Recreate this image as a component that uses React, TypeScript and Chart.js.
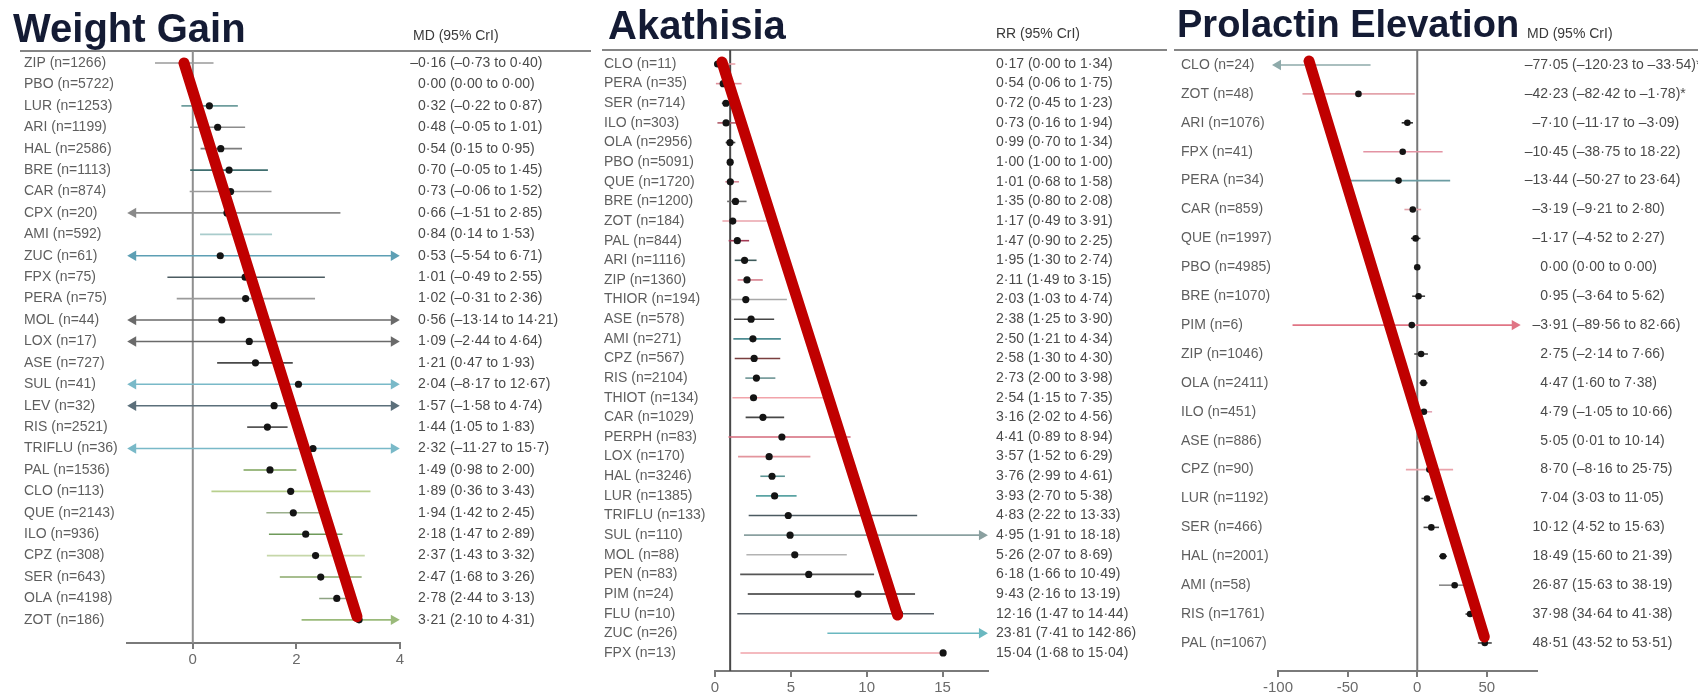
import React, { useEffect, useRef } from "react";
import { Chart, registerables } from "chart.js";

Chart.register(...registerables);

const FONT = '"Liberation Sans", Arial, sans-serif';

// ---------------- Weight Gain ----------------
const weightLabels = [
  "ZIP (n=1266)", "PBO (n=5722)", "LUR (n=1253)", "ARI (n=1199)", "HAL (n=2586)", "BRE (n=1113)",
  "CAR (n=874)", "CPX (n=20)", "AMI (n=592)", "ZUC (n=61)", "FPX (n=75)", "PERA (n=75)",
  "MOL (n=44)", "LOX (n=17)", "ASE (n=727)", "SUL (n=41)", "LEV (n=32)", "RIS (n=2521)",
  "TRIFLU (n=36)", "PAL (n=1536)", "CLO (n=113)", "QUE (n=2143)", "ILO (n=936)", "CPZ (n=308)",
  "SER (n=643)", "OLA (n=4198)", "ZOT (n=186)",
];
const weightMD = [-0.16, 0.0, 0.32, 0.48, 0.54, 0.7, 0.73, 0.66, 0.84, 0.53, 1.01, 1.02, 0.56, 1.09, 1.21, 2.04, 1.57, 1.44, 2.32, 1.49, 1.89, 1.94, 2.18, 2.37, 2.47, 2.78, 3.21];
const weightLow = [-0.73, 0.0, -0.22, -0.05, 0.15, -0.05, -0.06, -1.51, 0.14, -5.54, -0.49, -0.31, -13.14, -2.44, 0.47, -8.17, -1.58, 1.05, -11.27, 0.98, 0.36, 1.42, 1.47, 1.43, 1.68, 2.44, 2.1];
const weightHigh = [0.4, 0.0, 0.87, 1.01, 0.95, 1.45, 1.52, 2.85, 1.53, 6.71, 2.55, 2.36, 14.21, 4.64, 1.93, 12.67, 4.74, 1.83, 15.7, 2.0, 3.43, 2.45, 2.89, 3.32, 3.26, 3.13, 4.31];
const weightCrI = [
  "–0·16 (–0·73 to 0·40)", "0·00 (0·00 to 0·00)", "0·32 (–0·22 to 0·87)", "0·48 (–0·05 to 1·01)",
  "0·54 (0·15 to 0·95)", "0·70 (–0·05 to 1·45)", "0·73 (–0·06 to 1·52)", "0·66 (–1·51 to 2·85)",
  "0·84 (0·14 to 1·53)", "0·53 (–5·54 to 6·71)", "1·01 (–0·49 to 2·55)", "1·02 (–0·31 to 2·36)",
  "0·56 (–13·14 to 14·21)", "1·09 (–2·44 to 4·64)", "1·21 (0·47 to 1·93)", "2·04 (–8·17 to 12·67)",
  "1·57 (–1·58 to 4·74)", "1·44 (1·05 to 1·83)", "2·32 (–11·27 to 15·7)", "1·49 (0·98 to 2·00)",
  "1·89 (0·36 to 3·43)", "1·94 (1·42 to 2·45)", "2·18 (1·47 to 2·89)", "2·37 (1·43 to 3·32)",
  "2·47 (1·68 to 3·26)", "2·78 (2·44 to 3·13)", "3·21 (2·10 to 4·31)",
];
const weightTicks = [0, 2, 4];
const weightTrendX = [-0.17, 3.17];
const weightTrendY = [0, 25.85];

// ---------------- Akathisia ----------------
const akathisiaLabels = [
  "CLO (n=11)", "PERA (n=35)", "SER (n=714)", "ILO (n=303)", "OLA (n=2956)", "PBO (n=5091)",
  "QUE (n=1720)", "BRE (n=1200)", "ZOT (n=184)", "PAL (n=844)", "ARI (n=1116)", "ZIP (n=1360)",
  "THIOR (n=194)", "ASE (n=578)", "AMI (n=271)", "CPZ (n=567)", "RIS (n=2104)", "THIOT (n=134)",
  "CAR (n=1029)", "PERPH (n=83)", "LOX (n=170)", "HAL (n=3246)", "LUR (n=1385)", "TRIFLU (n=133)",
  "SUL (n=110)", "MOL (n=88)", "PEN (n=83)", "PIM (n=24)", "FLU (n=10)", "ZUC (n=26)", "FPX (n=13)",
];
const akathisiaRR = [0.17, 0.54, 0.72, 0.73, 0.99, 1.0, 1.01, 1.35, 1.17, 1.47, 1.95, 2.11, 2.03, 2.38, 2.5, 2.58, 2.73, 2.54, 3.16, 4.41, 3.57, 3.76, 3.93, 4.83, 4.95, 5.26, 6.18, 9.43, 12.16, 23.81, 15.04];
const akathisiaLow = [0.0, 0.06, 0.45, 0.16, 0.7, 1.0, 0.68, 0.8, 0.49, 0.9, 1.3, 1.49, 1.03, 1.25, 1.21, 1.3, 2.0, 1.15, 2.02, 0.89, 1.52, 2.99, 2.7, 2.22, 1.91, 2.07, 1.66, 2.16, 1.47, 7.41, 1.68];
const akathisiaHigh = [1.34, 1.75, 1.23, 1.94, 1.34, 1.0, 1.58, 2.08, 3.91, 2.25, 2.74, 3.15, 4.74, 3.9, 4.34, 4.3, 3.98, 7.35, 4.56, 8.94, 6.29, 4.61, 5.38, 13.33, 18.18, 8.69, 10.49, 13.19, 14.44, 142.86, 15.04];
const akathisiaCrI = [
  "0·17 (0·00 to 1·34)", "0·54 (0·06 to 1·75)", "0·72 (0·45 to 1·23)", "0·73 (0·16 to 1·94)",
  "0·99 (0·70 to 1·34)", "1·00 (1·00 to 1·00)", "1·01 (0·68 to 1·58)", "1·35 (0·80 to 2·08)",
  "1·17 (0·49 to 3·91)", "1·47 (0·90 to 2·25)", "1·95 (1·30 to 2·74)", "2·11 (1·49 to 3·15)",
  "2·03 (1·03 to 4·74)", "2·38 (1·25 to 3·90)", "2·50 (1·21 to 4·34)", "2·58 (1·30 to 4·30)",
  "2·73 (2·00 to 3·98)", "2·54 (1·15 to 7·35)", "3·16 (2·02 to 4·56)", "4·41 (0·89 to 8·94)",
  "3·57 (1·52 to 6·29)", "3·76 (2·99 to 4·61)", "3·93 (2·70 to 5·38)", "4·83 (2·22 to 13·33)",
  "4·95 (1·91 to 18·18)", "5·26 (2·07 to 8·69)", "6·18 (1·66 to 10·49)", "9·43 (2·16 to 13·19)",
  "12·16 (1·47 to 14·44)", "23·81 (7·41 to 142·86)", "15·04 (1·68 to 15·04)",
];
const akathisiaTicks = [0, 5, 10, 15];
const akathisiaTrendX = [0.46, 12.04];
const akathisiaTrendY = [-0.1, 28.07];

// ---------------- Prolactin Elevation ----------------
const prolactinLabels = [
  "CLO (n=24)", "ZOT (n=48)", "ARI (n=1076)", "FPX (n=41)", "PERA (n=34)", "CAR (n=859)",
  "QUE (n=1997)", "PBO (n=4985)", "BRE (n=1070)", "PIM (n=6)", "ZIP (n=1046)", "OLA (n=2411)",
  "ILO (n=451)", "ASE (n=886)", "CPZ (n=90)", "LUR (n=1192)", "SER (n=466)", "HAL (n=2001)",
  "AMI (n=58)", "RIS (n=1761)", "PAL (n=1067)",
];
const prolactinMD = [-77.05, -42.23, -7.1, -10.45, -13.44, -3.19, -1.17, 0.0, 0.95, -3.91, 2.75, 4.47, 4.79, 5.05, 8.7, 7.04, 10.12, 18.49, 26.87, 37.98, 48.51];
const prolactinLow = [-120.23, -82.42, -11.17, -38.75, -50.27, -9.21, -4.52, 0.0, -3.64, -89.56, -2.14, 1.6, -1.05, 0.01, -8.16, 3.03, 4.52, 15.6, 15.63, 34.64, 43.52];
const prolactinHigh = [-33.54, -1.78, -3.09, 18.22, 23.64, 2.8, 2.27, 0.0, 5.62, 82.66, 7.66, 7.38, 10.66, 10.14, 25.75, 11.05, 15.63, 21.39, 38.19, 41.38, 53.51];
const prolactinCrI = [
  "–77·05 (–120·23 to –33·54)*", "–42·23 (–82·42 to –1·78)*", "–7·10 (–11·17 to –3·09)",
  "–10·45 (–38·75 to 18·22)", "–13·44 (–50·27 to 23·64)", "–3·19 (–9·21 to 2·80)",
  "–1·17 (–4·52 to 2·27)", "0·00 (0·00 to 0·00)", "0·95 (–3·64 to 5·62)", "–3·91 (–89·56 to 82·66)",
  "2·75 (–2·14 to 7·66)", "4·47 (1·60 to 7·38)", "4·79 (–1·05 to 10·66)", "5·05 (0·01 to 10·14)",
  "8·70 (–8·16 to 25·75)", "7·04 (3·03 to 11·05)", "10·12 (4·52 to 15·63)", "18·49 (15·60 to 21·39)",
  "26·87 (15·63 to 38·19)", "37·98 (34·64 to 41·38)", "48·51 (43·52 to 53·51)",
];
const prolactinTicks = [-100, -50, 0, 50];
const prolactinTrendX = [-77.7, 48.2];
const prolactinTrendY = [-0.14, 19.79];

// ---------------- styles (colours per row) ----------------
const weightColors = [
  "#9a9a9a", "#999999", "#6e9d9d", "#8c8c8c", "#7d7d7d", "#3f6e6f", "#9a9a9a", "#8a8a8a", "#a9cccc",
  "#5d9fb4", "#4b5b61", "#9b9b9b", "#6a6a6a", "#6a6a6a", "#4a4a4a", "#79b9c8", "#5b6f7a", "#555555",
  "#79b9c8", "#7da35a", "#b8cf8d", "#9bb08c", "#6f9a5a", "#c6d7a9", "#8aa86a", "#8ea383", "#9aba7a",
];
const akathisiaColors = [
  "#eaa3ab", "#e0909b", "#5a5a5a", "#b05a68", "#4a4a4a", "#999999", "#d98a98", "#6a6a6a", "#eaa3ab",
  "#a33a55", "#3d5a5a", "#d7808e", "#a8a8a8", "#474747", "#4d8c92", "#7a3f3f", "#6c9494", "#f2a3aa",
  "#474747", "#d4697a", "#e3959d", "#5c9494", "#5aa3a3", "#4b5a61", "#8aa0a0", "#b3b3b3", "#565656",
  "#333333", "#565f66", "#6ab8c0", "#f0a3aa",
];
const prolactinColors = [
  "#8eaaaa", "#e3a3ab", "#333333", "#e393a3", "#6b9ca2", "#e3a3ab", "#333333", "#999999", "#444444",
  "#e07585", "#444444", "#444444", "#e3a3b3", "#dddddd", "#eaa3ab", "#444444", "#444444", "#444444",
  "#8a8a8a", "#444444", "#444444",
];

type Panel = {
  key: string;
  left: number;
  width: number;
  title: string;
  titleX: number;
  titleY: number;
  titleSize: number;
  header: string;
  headerX: number;
  headerY: number;
  headerSize: number;
  lineX0: number;
  lineX1: number;
  labels: string[];
  est: number[];
  low: number[];
  high: number[];
  cri: string[];
  colors: string[];
  ref: number;
  refColor: string;
  hideRefDot: boolean;
  xMin: number;
  xMax: number;
  yMin: number;
  yMax: number;
  ticks: number[];
  ciMin: number;
  ciMax: number;
  trendX: number[];
  trendY: number[];
  pad: { left: number; right: number; top: number; bottom: number };
  labelX: number;
  labelSize: number;
  criX: number;
  criMode: "left" | "decimal";
  criSize: number;
  dotR: number;
};

const panels: Panel[] = [
  {
    key: "weight", left: 0, width: 600,
    title: "Weight Gain", titleX: 13, titleY: 42, titleSize: 40,
    header: "MD (95% CrI)", headerX: 413, headerY: 36, headerSize: 14,
    lineX0: 20, lineX1: 591,
    labels: weightLabels, est: weightMD, low: weightLow, high: weightHigh, cri: weightCrI, colors: weightColors,
    ref: 0, refColor: "#8f8f8f", hideRefDot: true,
    xMin: -1.27, xMax: 4, yMin: -0.56, yMax: 27.08, ticks: weightTicks,
    ciMin: -1.15, ciMax: 3.88,
    trendX: weightTrendX, trendY: weightTrendY,
    pad: { left: 127, right: 200, top: 51, bottom: 28 },
    labelX: 24, labelSize: 14, criX: 418, criMode: "left", criSize: 14, dotR: 3.6,
  },
  {
    key: "akathisia", left: 600, width: 573,
    title: "Akathisia", titleX: 8, titleY: 39, titleSize: 40,
    header: "RR (95% CrI)", headerX: 396, headerY: 34, headerSize: 14,
    lineX0: 2, lineX1: 567,
    labels: akathisiaLabels, est: akathisiaRR, low: akathisiaLow, high: akathisiaHigh, cri: akathisiaCrI, colors: akathisiaColors,
    ref: 1, refColor: "#484848", hideRefDot: false,
    xMin: 0, xMax: 18, yMin: -0.713, yMax: 30.92, ticks: akathisiaTicks,
    ciMin: 0, ciMax: 17.6,
    trendX: akathisiaTrendX, trendY: akathisiaTrendY,
    pad: { left: 115, right: 185, top: 50, bottom: 0 },
    labelX: 4, labelSize: 14, criX: 396, criMode: "left", criSize: 14, dotR: 3.6,
  },
  {
    key: "prolactin", left: 1173, width: 525,
    title: "Prolactin Elevation", titleX: 4, titleY: 37, titleSize: 38,
    header: "MD (95% CrI)", headerX: 354, headerY: 34, headerSize: 14,
    lineX0: 1, lineX1: 525,
    labels: prolactinLabels, est: prolactinMD, low: prolactinLow, high: prolactinHigh, cri: prolactinCrI, colors: prolactinColors,
    ref: 0, refColor: "#777777", hideRefDot: false,
    xMin: -100, xMax: 86, yMin: -0.52, yMax: 20.97, ticks: prolactinTicks,
    ciMin: -100, ciMax: 70,
    trendX: prolactinTrendX, trendY: prolactinTrendY,
    pad: { left: 105, right: 161, top: 50, bottom: 0 },
    labelX: 8, labelSize: 14, criX: 375, criMode: "decimal", criSize: 14, dotR: 3.3,
  },
];

function buildChart(canvas: HTMLCanvasElement, p: Panel): Chart {
  const datasets: any[] = [];
  datasets.push({
    label: "trend",
    data: p.trendX.map((x, k) => ({ x, y: p.trendY[k] })),
    showLine: true,
    borderColor: "#c00000",
    borderWidth: 11,
    borderCapStyle: "round",
    pointRadius: 0,
    order: 0,
    clip: false,
  });
  datasets.push({
    label: "estimate",
    data: p.est
      .map((v, i) => ({ x: v, y: i }))
      .filter((d, i) => d.x >= p.xMin && d.x <= p.xMax && !(p.hideRefDot && p.low[i] === p.high[i])),
    showLine: false,
    pointRadius: p.dotR,
    pointBackgroundColor: "#141414",
    pointBorderWidth: 0,
    order: 1,
    clip: false,
  });
  p.est.forEach((_v, i) => {
    if (p.low[i] === p.high[i]) return;
    const lo = Math.max(p.low[i], p.ciMin);
    const hi = Math.min(p.high[i], p.ciMax);
    datasets.push({
      label: "ci" + i,
      data: [
        { x: lo, y: i },
        { x: hi, y: i },
      ],
      showLine: true,
      borderColor: p.colors[i],
      borderWidth: 1.6,
      pointStyle: "triangle",
      pointRotation: [-90, 90],
      pointRadius: [p.low[i] < p.ciMin ? 6 : 0, p.high[i] > p.ciMax ? 6 : 0],
      pointBackgroundColor: p.colors[i],
      pointBorderWidth: 0,
      order: 2,
      clip: false,
    });
  });
  datasets.push({
    label: "ref",
    data: [
      { x: p.ref, y: p.yMin },
      { x: p.ref, y: p.yMax },
    ],
    showLine: true,
    borderColor: p.refColor,
    borderWidth: 2,
    pointRadius: 0,
    order: 3,
    clip: false,
  });

  const textPlugin = {
    id: "forestText_" + p.key,
    beforeDatasetsDraw(chart: any) {
      const ctx: CanvasRenderingContext2D = chart.ctx;
      const ys = chart.scales.y;
      const top = chart.chartArea.top;
      ctx.save();
      ctx.textAlign = "left";
      ctx.textBaseline = "alphabetic";
      ctx.fillStyle = "#141b34";
      ctx.font = `bold ${p.titleSize}px ${FONT}`;
      ctx.fillText(p.title, p.titleX, p.titleY);

      ctx.textBaseline = "middle";
      ctx.fillStyle = "#3a3a3a";
      ctx.font = `${p.headerSize}px ${FONT}`;
      ctx.fillText(p.header, p.headerX, p.headerY);

      ctx.strokeStyle = "#858585";
      ctx.lineWidth = 2;
      ctx.beginPath();
      ctx.moveTo(p.lineX0, top);
      ctx.lineTo(p.lineX1, top);
      ctx.stroke();

      ctx.fillStyle = "#5e5e5e";
      ctx.font = `${p.labelSize}px ${FONT}`;
      p.labels.forEach((l, i) => ctx.fillText(l, p.labelX, ys.getPixelForValue(i)));

      ctx.fillStyle = "#4a4a4a";
      ctx.font = `${p.criSize}px ${FONT}`;
      p.cri.forEach((t, i) => {
        let x = p.criX;
        if (p.criMode === "decimal") {
          const k = t.indexOf("·");
          x -= ctx.measureText(t.slice(0, k)).width;
        } else if (t.startsWith("–")) {
          x -= ctx.measureText("–").width;
        }
        ctx.fillText(t, x, ys.getPixelForValue(i));
      });
      ctx.restore();
    },
  };

  return new Chart(canvas, {
    type: "scatter",
    data: { datasets },
    options: {
      animation: false,
      responsive: false,
      devicePixelRatio: 1,
      events: [],
      layout: { padding: p.pad },
      plugins: { legend: { display: false }, tooltip: { enabled: false }, title: { display: false } },
      scales: {
        x: {
          type: "linear",
          position: "bottom",
          min: p.xMin,
          max: p.xMax,
          afterBuildTicks: (s: any) => {
            s.ticks = p.ticks.map((v) => ({ value: v }));
          },
          afterFit: (s: any) => {
            s.height = 26;
          },
          grid: { drawOnChartArea: false, drawTicks: true, tickLength: 6, color: "#7a7a7a", lineWidth: 2 },
          border: { display: true, color: "#7a7a7a", width: 2 },
          ticks: {
            color: "#6a6a6a",
            font: { family: FONT, size: 15 },
            padding: 2,
            maxRotation: 0,
            autoSkip: false,
            callback: (v: any) => String(v),
          },
        },
        y: { type: "linear", reverse: true, min: p.yMin, max: p.yMax, display: false },
      },
    } as any,
    plugins: [textPlugin],
  });
}

function ForestPanel({ p }: { p: Panel }) {
  const ref = useRef<HTMLCanvasElement | null>(null);
  useEffect(() => {
    if (!ref.current) return;
    const chart = buildChart(ref.current, p);
    return () => chart.destroy();
  }, [p]);
  return (
    <canvas
      ref={ref}
      width={p.width}
      height={697}
      style={{ position: "absolute", left: p.left, top: 0, width: p.width, height: 697, display: "block" }}
    />
  );
}

export default function App() {
  useEffect(() => {
    document.body.style.margin = "0";
    document.body.style.overflow = "hidden";
  }, []);
  return (
    <div style={{ position: "absolute", left: 0, top: 0, width: 1698, height: 697, background: "#ffffff", overflow: "hidden" }}>
      {panels.map((p) => (
        <ForestPanel key={p.key} p={p} />
      ))}
    </div>
  );
}
